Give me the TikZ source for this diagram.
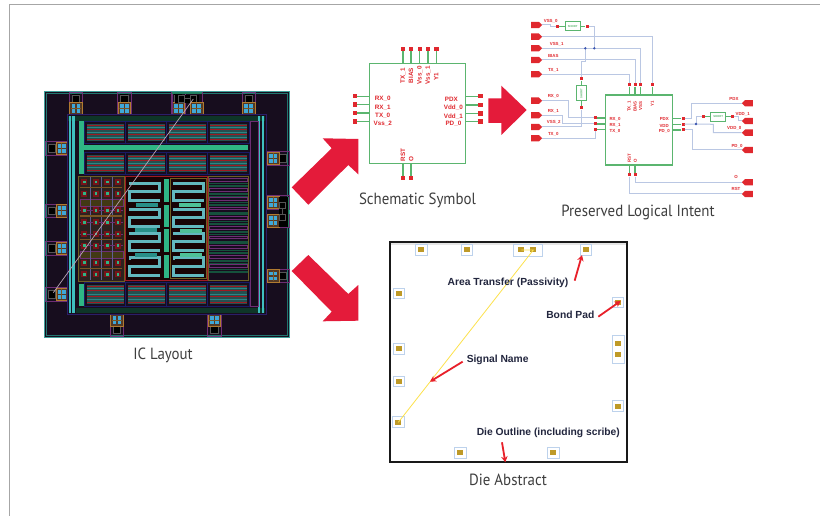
\documentclass[tikz,border=0pt]{standalone}
\usepackage{fontspec}
\setmainfont{Liberation Sans}
\newfontfamily\capfont[FakeStretch=0.92]{PT Sans}
\usetikzlibrary{shapes.symbols,arrows.meta}
\definecolor{arrowred}{HTML}{E41B3A}
\definecolor{pinred}{HTML}{E0282E}
\definecolor{ptrred}{HTML}{E8202A}
\definecolor{symgreen}{HTML}{5BB56F}
\definecolor{wireblue}{HTML}{BAC7E3}
\definecolor{junction}{HTML}{3C55B0}
\definecolor{icbg}{HTML}{170D1E}
\definecolor{ictl}{HTML}{2FA8A0}
\definecolor{icgreen}{HTML}{2FB585}
\definecolor{iccyan}{HTML}{3FBFC0}
\definecolor{icnavy}{HTML}{1A1A66}
\definecolor{icpurple}{HTML}{6E2E74}
\definecolor{icorange}{HTML}{B07A30}
\definecolor{icblue}{HTML}{3FA8D8}
\definecolor{icolive}{HTML}{6E5F22}
\definecolor{icred}{HTML}{A01A22}
\definecolor{serp}{HTML}{62B8BE}
\definecolor{dietext}{HTML}{22263E}
\definecolor{gold}{HTML}{BE9A28}
\definecolor{padblue}{HTML}{BDD2EC}
\definecolor{capgray}{HTML}{3E3E3E}
\definecolor{diag}{HTML}{B8A4B4}
\definecolor{padring}{HTML}{555555}
\tikzset{
  x=1pt,y=-1pt,
  bigarrow/.style={fill=arrowred,draw=none},
  caption/.style={font=\capfont\fontsize{16.2}{17}\selectfont,text=capgray,inner sep=0pt},
  symbox/.style={draw=symgreen,line width=1.2pt,fill=white,inner sep=0pt},
  stub/.style={draw=symgreen,line width=1.2pt},
  wire/.style={draw=wireblue,line width=1pt},
  pindot/.style={fill=pinred,draw=none,minimum size=4.4pt,inner sep=0pt,rectangle},
  smalldot/.style={fill=pinred,draw=none,minimum size=3pt,inner sep=0pt,rectangle},
  jdot/.style={fill=junction,draw=none,circle,minimum size=2.6pt,inner sep=0pt},
  lbl/.style={text=pinred,font=\bfseries\fontsize{6.3}{7}\selectfont,inner sep=0pt},
  tlbl/.style={text=pinred,font=\bfseries\fontsize{4.4}{5}\selectfont,inner sep=0pt},
  termE/.style={shape=signal,signal to=east,signal from=nowhere,fill=pinred,draw=none,minimum width=11pt,minimum height=6.4pt,inner sep=0pt},
  termW/.style={shape=signal,signal to=west,signal from=nowhere,fill=pinred,draw=none,minimum width=11pt,minimum height=6.4pt,inner sep=0pt},
  shortbox/.style={draw=symgreen,line width=0.9pt,fill=white,inner sep=0pt,text=symgreen,font=\bfseries\fontsize{2.8}{3}\selectfont},
  dietxt/.style={text=dietext,font=\bfseries\fontsize{10.3}{11}\selectfont,inner sep=0pt},
  redptr/.style={draw=ptrred,line width=1.8pt,-{Stealth[length=6pt,width=6.5pt]}},
  diepad/.style={fill=gold,draw=none,minimum width=6pt,minimum height=5pt,inner sep=0pt},
  dieframe/.style={draw=padblue,line width=1pt,fill=white},
}
% IC pad: local units are zoomed pixels, pointing "up"
\newcommand{\icpad}[3]{%
  \begin{scope}[shift={(#1,#2)},rotate=#3]
    \fill[icgreen!70!black] (-19,-36) rectangle (19,-33);
    \draw[icpurple,line width=0.7pt] (-20,-35) rectangle (20,33);
    \fill[black] (-12,-28) rectangle (12,-4);
    \draw[padring,line width=0.5pt] (-11,-26) rectangle (11,-5);
    \fill[icbg!60!icorange] (-19,-3) rectangle (19,33);
    \draw[icorange,line width=0.8pt] (-19,-3) rectangle (19,33);
    \fill[icblue] (-13,2) rectangle (-2,28);
    \fill[icblue] (2,2) rectangle (13,28);
    \fill[icorange!70!black] (-15,13) rectangle (15,16);
  \end{scope}}
\newcommand{\memblk}[3]{%
  \fill[icbg] (#1,#2) rectangle ({#1+124},{#2+#3});
  \draw[icnavy,line width=0.8pt] (#1,#2) rectangle ({#1+124},{#2+#3});
  \fill[black!55!teal!70!gray] ({#1+7},{#2+8}) rectangle ({#1+118},{#2+#3-6});
  \foreach \r in {0.18,0.36,0.6,0.84}{\draw[icred,line width=0.7pt] ({#1+7},{#2+\r*#3}) -- ({#1+118},{#2+\r*#3});}
  \foreach \r in {0.27,0.5,0.72}{\draw[iccyan!70!black,line width=0.7pt] ({#1+7},{#2+\r*#3}) -- ({#1+118},{#2+\r*#3});}
}
\newcommand{\serpblk}[2]{%
  \draw[serp,line width=3pt,line join=miter] (#1,{#2+1}) -- ({#1+92},{#2+1}) -- ({#1+92},{#2+27}) -- ({#1+3},{#2+27}) -- ({#1+3},{#2+53}) -- ({#1+94},{#2+53});
  \fill[serp] (#1,{#2-4}) rectangle ({#1+8},{#2+6});
}
\begin{document}
\begin{tikzpicture}
\useasboundingbox (0,0) rectangle (820,516);
\fill[white] (0,0) rectangle (820,516);
% page frame
\draw[black!35,line width=1.4pt] (820,4.7) -- (9.5,4.7) -- (9.5,516);

% ---------- IC layout ----------
\begin{scope}[shift={(30,80)},x=0.33333pt,y=-0.33333pt]
  \fill[icbg] (44,35) rectangle (778,772);
  \draw[ictl!80!gray,line width=0.9pt] (44,35) rectangle (778,772);
  \draw[ictl!70!black,line width=0.5pt] (49,41) rectangle (773,766);
  % pads
  \foreach \px in {138,283,656}{\icpad{\px}{71}{0}}
  \icpad{445}{71}{360}
  \draw[icpurple,line width=0.7pt] (427,38) rectangle (517,105);
  \fill[icgreen!70!black] (427,35) rectangle (517,41);
  \fill[black] (436,44) rectangle (508,68);
  \draw[padring,line width=0.5pt] (444,47) rectangle (464,66);
  \draw[padring,line width=0.5pt] (481,47) rectangle (500,66);
  \draw[padring,line width=0.5pt] (464,56) -- (481,56);
  \fill[icbg!60!icorange] (481,68) rectangle (519,105);
  \draw[icorange,line width=0.8pt] (481,68) rectangle (519,105);
  \fill[icblue] (487,73) rectangle (498,99);
  \fill[icblue] (502,73) rectangle (513,99);
  \fill[icorange!70!black] (485,84) rectangle (515,87);
  \foreach \py in {205,392,505,643}{\icpad{81}{\py}{90}}
  \foreach \py in {235,367,422,588}{\icpad{744}{\py}{-90}}
  \fill[black] (748,350) rectangle (773,440);
  \draw[padring,line width=0.5pt] (749,367) rectangle (767,385);
  \draw[padring,line width=0.5pt] (749,404) rectangle (767,422);
  \draw[padring,line width=0.5pt] (758,385) -- (758,404);
  \draw[icgreen!70!black,line width=0.8pt] (775,350) -- (775,440);
  \foreach \px in {261,553}{\icpad{\px}{735}{180}}
  % core
  \fill[icbg] (113,103) rectangle (710,703);
  \draw[icnavy!80!icpurple,line width=0.8pt] (113,103) rectangle (710,703);
  \fill[icgreen!30!black] (113,107) rectangle (706,122);
  \fill[icgreen!30!black] (138,683) rectangle (706,700);
  \fill[iccyan] (116,107) rectangle (123,700);
  \fill[iccyan] (127,107) rectangle (135,700);
  \fill[iccyan] (683,107) rectangle (690,700);
  \fill[iccyan] (695,107) rectangle (703,700);
  \draw[icpurple,line width=0.7pt] (660,124) rectangle (685,680);
  \fill[icgreen] (148,123) rectangle (161,282);
  \fill[icgreen] (161,194) rectangle (655,211);
  \fill[icgreen] (148,611) rectangle (161,678);
  % memory rows
  \foreach \bx in {163,287,410,533}{
    \memblk{\bx}{124}{66}
    \memblk{\bx}{216}{66}
    \memblk{\bx}{606}{72}
  }
  % left array
  \fill[icbg!75!icolive] (145,288) rectangle (283,603);
  \fill[icolive!60!black] (150,358) rectangle (281,380);
  \fill[icolive!60!black] (150,515) rectangle (281,536);
  \draw[icpurple,line width=0.6pt] (150,358) rectangle (281,380);
  \draw[icpurple,line width=0.6pt] (150,515) rectangle (281,536);
  \draw[icolive,line width=0.9pt] (145,288) rectangle (283,603);
  \foreach \vx in {180,215,248}{\draw[icnavy!70!white,line width=0.6pt] (\vx,292) -- (\vx,600);}
  \foreach \hy in {322,408,478,565}{\fill[icorange!70!black] (150,{\hy-2}) rectangle (275,{\hy+2});}
  \foreach \hy in {391,427,462,497}{\draw[icpurple,line width=0.4pt] (150,\hy) -- (280,\hy);}
  \foreach \gy in {306,341,391,427,462,497,548,583}{
    \foreach \gx in {163,198,232,264}{
      \fill[icred!75!black] ({\gx-9},{\gy-9}) rectangle ({\gx+9},{\gy+9});
      \fill[icgreen] ({\gx-4},{\gy-4}) rectangle ({\gx+4},{\gy+4});
    }}
  % middle
  \fill[black!85!icred] (287,288) rectangle (533,600);
  \draw[icred,line width=0.9pt] (287,288) rectangle (533,600);
  \draw[icolive,line width=0.7pt] (420,296) rectangle (530,596);
  \foreach \sy in {309,387,459,533}{
    \serpblk{296}{\sy}
    \serpblk{428}{\sy}
  }
  \foreach \vy/\vz in {298/367,375/442,448/515,525/593}{\fill[icgreen] (403,\vy) rectangle (417,\vz);}
  \foreach \hx/\hy in {317/369,314/445,316/519}{\fill[ictl!85!black] (\hx,\hy) rectangle ({\hx+66},{\hy+12});}
  \foreach \hx/\hy in {447/369,449/446,449/519}{\fill[icgreen!85!white] (\hx,\hy) rectangle ({\hx+66},{\hy+12});}
  % right stripes
  \fill[icbg] (535,288) rectangle (655,600);
  \foreach \sy in {300,329,357,385,414,443,472,501,530,558}{
    \draw[icpurple,line width=0.7pt] (538,{\sy-4}) rectangle (652,{\sy+4});
    \foreach \dy in {11,15,19}{\draw[icgreen!45!black,line width=0.6pt] (536,{\sy+\dy}) -- (654,{\sy+\dy});}
  }
  \draw[icolive,line width=0.5pt] (535,288) rectangle (655,600);
  % diagonal signal
  \draw[diag,line width=0.7pt] (70,638) -- (490,57);
\end{scope}
\node[caption] (icl) at (163,355.5) {IC Layout};

% ---------- big arrows ----------
\fill[bigarrow] (291.7,187.3) -- (331.7,148.3) -- (322.7,138.3) -- (358.3,139) -- (358.3,174.3) -- (348.3,165) -- (308.3,204.7) -- cycle;
\fill[bigarrow] (291.7,271) -- (308.3,255) -- (348.3,294) -- (358.3,285) -- (358.3,320.7) -- (322.7,321.3) -- (331.7,311.7) -- cycle;
\fill[bigarrow] (488.3,98.3) -- (501.3,98.3) -- (501.3,85.7) -- (526.7,110) -- (501.3,135) -- (501.3,123) -- (488.3,123) -- cycle;

% ---------- schematic symbol ----------
\node[symbox,minimum width=96pt,minimum height=100pt] (sym) at (417.7,113.3) {};
\foreach \nm/\px in {a/403,b/411,c/419.7,d/428,e/436.3}{
  \node[pindot] (st\nm) at (\px,49) {};
  \draw[stub] (st\nm) -- (st\nm |- sym.north);
}
\foreach \nm/\py in {a/96.3,b/104.7,c/113,d/121.7}{
  \node[pindot] (sl\nm) at (355,\py) {};
  \draw[stub] (sl\nm) -- (sl\nm -| sym.west);
}
\foreach \nm/\py in {a/96.3,b/105,c/113.7,d/121.7}{
  \node[pindot] (sr\nm) at (480.3,\py) {};
  \draw[stub] (sr\nm) -- (sr\nm -| sym.east);
}
\foreach \nm/\px in {a/403,b/411}{
  \node[pindot] (sb\nm) at (\px,178) {};
  \draw[stub] (sb\nm) -- (sb\nm |- sym.south);
}
\node[lbl,rotate=90,anchor=east] (t1) at (403,68) {TX\_1};
\node[lbl,rotate=90,anchor=east] (t2) at (411,68) {BIAS};
\node[lbl,rotate=90,anchor=east] (t3) at (419.7,66) {Vss\_0};
\node[lbl,rotate=90,anchor=east] (t4) at (428,66) {Vss\_1};
\node[lbl,rotate=90,anchor=east] (t5) at (436.3,73) {Y1};
\node[lbl] (l1) at (382.7,98.7) {RX\_0};
\node[lbl] (l2) at (382.7,107.3) {RX\_1};
\node[lbl] (l3) at (382.7,115.7) {TX\_0};
\node[lbl] (l4) at (382.7,124) {Vss\_2};
\node[lbl,anchor=east] (r1) at (458,99) {PDX};
\node[lbl,anchor=east] (r2) at (463,107.7) {Vdd\_0};
\node[lbl,anchor=east] (r3) at (463,116.3) {Vdd\_1};
\node[lbl,anchor=east] (r4) at (461.5,124) {PD\_0};
\node[lbl,rotate=90,anchor=east] (b1) at (403,148.5) {RST};
\node[lbl,rotate=90,anchor=east] (b2) at (411.3,156) {O};
\node[caption] (scap) at (417.5,200.5) {Schematic Symbol};

% ---------- preserved logical intent ----------
\node[symbox,minimum width=67pt,minimum height=70pt] (pli) at (639.2,130) {};
% top and bottom pins
\foreach \nm/\px in {a/629.3,b/635,c/640.7,d/652.3}{
  \node[smalldot] (pt\nm) at (\px,85) {};
  \draw[stub] (pt\nm) -- (pt\nm |- pli.north);
}
\foreach \nm/\px in {a/629.3,b/635}{
  \node[smalldot] (pb\nm) at (\px,175) {};
  \draw[stub] (pb\nm) -- (pb\nm |- pli.south);
}
\foreach \nm/\py in {a/118,b/124,c/129.7}{
  \node[smalldot] (pl\nm) at (595.7,\py) {};
  \draw[stub] (pl\nm) -- (pl\nm -| pli.west);
  \node[smalldot] (pr\nm) at (683,{\py+0.3}) {};
  \draw[stub] (pr\nm) -- (pr\nm -| pli.east);
}
% terminals left
\foreach \nm/\py in {vssz/25,top/36.7,vsso/48.3,bias/60,txo/74.3,rxz/100.7,rxo/115.3,vsst/127,txz/138.3}{
  \node[termE] (T\nm) at (535,\py) {};
}
% terminals right
\foreach \nm/\py in {pdx/103.3,vddo/121,vddz/132.7,pdz/150,oo/182.3,rst/194}{
  \node[termW] (T\nm) at (749,\py) {};
}
% wires
\node[smalldot] (d1) at (557.7,26.3) {};
\node[smalldot] (d2) at (587,26.3) {};
\node[smalldot] (d3) at (581.3,79) {};
\node[smalldot] (d4) at (581.3,108) {};
\node[smalldot] (d5) at (703.3,116.7) {};
\node[smalldot] (d6) at (732.3,116.7) {};
\coordinate (j1) at (594.3,48.3);
\coordinate (j2) at (585.3,48.3);
\coordinate (j3) at (696,124);
\draw[wire] (Tvssz.east) -- (550,25) -- (550,26.3) -- (d1);
\draw[wire] (d2) -- (d2 -| j1) -- (j1);
\draw[wire] (Ttop.east) -- (Ttop.east -| ptd) -- (ptd);
\draw[wire] (Tvsso.east) -- (j2) -- (j1) -- (j1 -| ptc) -- (ptc);
\draw[wire] (Tbias.east) -- (Tbias.east -| ptb) -- (ptb);
\draw[wire] (Ttxo.east) -- (Ttxo.east -| pta) -- (pta);
\draw[wire] (j2) -- (585.3,61.7) -- (581.3,61.7) -- (d3);
\draw[wire] (d4) -- (d4 |- Tvsst.east) -- (Tvsst.east);
\draw[wire] (Trxz.east) -- (568.3,100.7) -- (568.3,118) -- (pla);
\draw[wire] (Trxo.east) -- (562.3,115.3) -- (562.3,124) -- (plb);
\draw[wire] (Ttxz.east) -- (Ttxz.east -| plc) -- (plc);
\draw[wire] (pra) -- (691.3,118.3) -- (691.3,103.3) -- (Tpdx.west);
\draw[wire] (prb) -- (j3) -- (713.3,124.3) -- (713.3,132.7) -- (Tvddz.west);
\draw[wire] (j3) -- (696,116.7) -- (d5);
\draw[wire] (d6) -- (738.3,116.7) -- (738.3,121) -- (Tvddo.west);
\draw[wire] (prc) -- (692.3,130) -- (692.3,150) -- (Tpdz.west);
\draw[wire] (pbb) -- (pbb |- Too.west) -- (Too.west);
\draw[wire] (pba) -- (pba |- Trst.west) -- (Trst.west);
% junctions and shorts over the wires
\node[jdot] (jd1) at (j1) {};
\node[jdot] (jd2) at (j2) {};
\node[jdot] (jd3) at (j3) {};
\node[shortbox,minimum width=14.7pt,minimum height=8.7pt] (sh1) at (572.7,26.3) {SHORT};
\node[shortbox,minimum width=14.7pt,minimum height=9.3pt,rotate=90] (sh2) at (581.3,93.3) {SHORT};
\node[shortbox,minimum width=15pt,minimum height=8.7pt] (sh3) at (718.2,116.7) {SHORT};
\draw[stub] (d1) -- (sh1) (sh1) -- (d2) (d3) -- (sh2) (sh2) -- (d4) (d5) -- (sh3) (sh3) -- (d6);
\foreach \dd in {d1,d2,d3,d4,d5,d6}{\node[smalldot] at (\dd) {};}
% labels left
\node[tlbl] (n1) at (550.7,21) {VSS\_0};
\node[tlbl] (n2) at (556.7,44.3) {VSS\_1};
\node[tlbl] (n3) at (553.3,56) {BIAS};
\node[tlbl] (n4) at (553.3,70.3) {TX\_1};
\node[tlbl] (n5) at (553.3,96.7) {RX\_0};
\node[tlbl] (n6) at (553.3,111.3) {RX\_1};
\node[tlbl] (n7) at (553.8,122.7) {VSS\_2};
\node[tlbl] (n8) at (553.3,134.3) {TX\_0};
% labels inside
\node[tlbl] (i1) at (615,119.3) {RX\_0};
\node[tlbl] (i2) at (615,125.3) {RX\_1};
\node[tlbl] (i3) at (615,131.7) {TX\_0};
\node[tlbl,anchor=east] (i4) at (669,119.3) {PDX};
\node[tlbl,anchor=east] (i5) at (669,125.7) {VDD};
\node[tlbl,anchor=east] (i6) at (670,131.3) {PD\_0};
\node[tlbl,rotate=90,anchor=east] (i7) at (629.3,101) {TX\_1};
\node[tlbl,rotate=90,anchor=east] (i8) at (635,101) {BIAS};
\node[tlbl,rotate=90,anchor=east] (i9) at (640.7,101) {VSS};
\node[tlbl,rotate=90,anchor=east] (i10) at (652.3,101) {Y1};
\node[tlbl,rotate=90,anchor=east] (i11) at (629.3,154) {RST};
\node[tlbl,rotate=90,anchor=east] (i12) at (635.3,158.5) {O};
% labels right
\node[tlbl] (m1) at (734,99.3) {PDX};
\node[tlbl] (m2) at (742.7,114) {VDD\_1};
\node[tlbl] (m3) at (734.3,128.7) {VDD\_0};
\node[tlbl] (m4) at (737,146) {PD\_0};
\node[tlbl] (m5) at (736,177) {O};
\node[tlbl] (m6) at (736,188.7) {RST};
\node[caption] (pcap) at (638,212.5) {Preserved Logical Intent};

% ---------- die abstract ----------
\begin{scope}[shift={(380,235)},x=0.33333pt,y=-0.33333pt]
  \fill[black!10] (31,22) rectangle (740,29);
  \foreach \qx/\qy in {124/45,261/45,618/45,57/176,57/342,57/440,55/562,241/654,520/654,714/514,714/203}{
    \draw[dieframe] ({\qx-17},{\qy-16}) rectangle ({\qx+17},{\qy+16});
  }
  \draw[dieframe] (400,30) rectangle (487,64);
  \draw[dieframe] (697,303) rectangle (732,385);
  \draw[black!90,line width=2.2pt] (31,22) rectangle (740,680);
  \node[diepad] (q1) at (124,45) {};
  \node[diepad] (q2) at (261,45) {};
  \node[diepad] (q3) at (618,45) {};
  \node[diepad] (q4) at (57,176) {};
  \node[diepad] (q5) at (57,342) {};
  \node[diepad] (q6) at (57,440) {};
  \node[diepad] (q7) at (55,562) {};
  \node[diepad] (q8) at (241,654) {};
  \node[diepad] (q9) at (520,654) {};
  \node[diepad] (q10) at (714,514) {};
  \node[diepad] (q11) at (714,203) {};
  \node[diepad] (q12) at (424,45) {};
  \node[diepad] (q13) at (460,45) {};
  \node[diepad] (q14) at (714,327) {};
  \node[diepad] (q15) at (714,359) {};
  \draw[yellow!75!orange!70,line width=0.8pt] (q7.center) -- (q13.center) -- (q12.center);
  \node[dietxt] (area) at (384,143) {Area Transfer (Passivity)};
  \node[dietxt] (bond) at (571,240) {Bond Pad};
  \node[dietxt] (sig) at (353,375) {Signal Name};
  \node[dietxt] (dio) at (505,595) {Die Outline (including scribe)};
  \coordinate (a1) at (584,137);
  \coordinate (a1t) at (606,60);
  \coordinate (a2) at (655,245);
  \coordinate (a2t) at (722,198);
  \coordinate (a3) at (248,380);
  \coordinate (a4) at (150,440);
  \coordinate (a5) at (366,622);
  \coordinate (a6) at (376,682);
  \draw[redptr] (a1) -- (a1t);
  \draw[redptr] (a2) -- (a2t);
  \draw[redptr] (a3) -- (a4);
  \draw[redptr] (a5) -- (a6);
\end{scope}
\node[caption] (dcap) at (508,479.5) {Die Abstract};
\end{tikzpicture}
\end{document}
